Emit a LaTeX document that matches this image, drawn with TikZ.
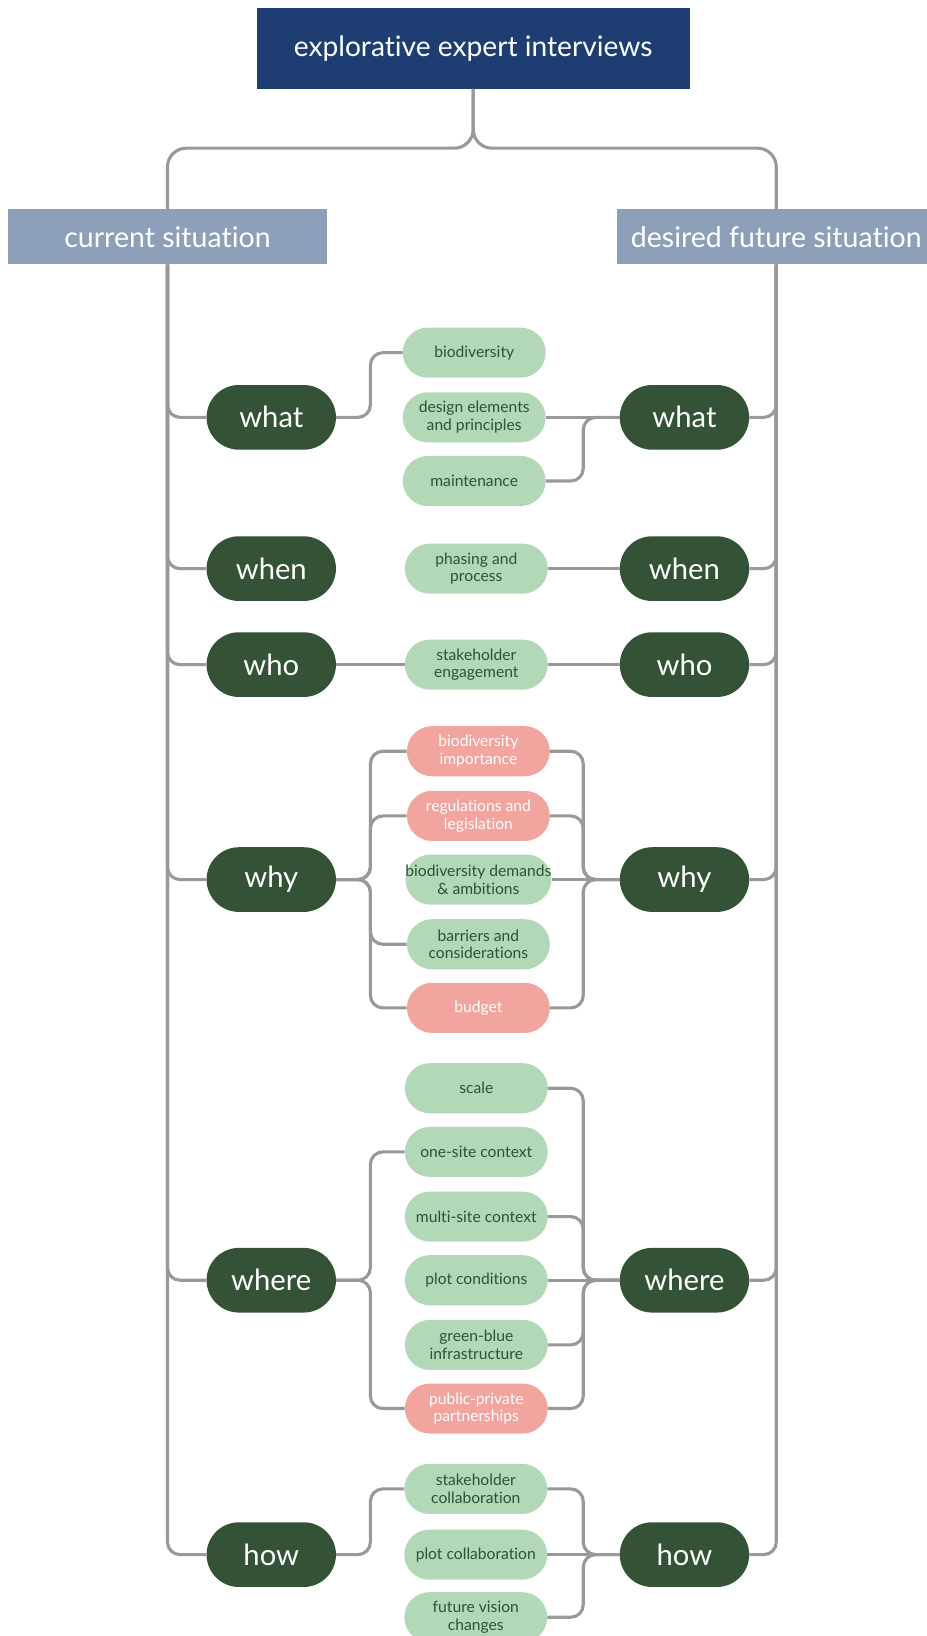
\documentclass[tikz,border=0pt]{standalone}
\usepackage{fontspec}
\setmainfont{Lato}[Ligatures={NoCommon}]
\usetikzlibrary{calc}

\definecolor{navy}{HTML}{1E3D72}
\definecolor{slate}{HTML}{8E9FBA}
\definecolor{darkgreen}{HTML}{335236}
\definecolor{lightgreen}{HTML}{B3D8B8}
\definecolor{pinkfill}{HTML}{F2A49E}
\definecolor{leaftext}{HTML}{2E5233}
\definecolor{linegray}{HTML}{999999}

\tikzset{
  topbox/.style={fill=navy, text=white, minimum width=415, minimum height=77,
    inner sep=0, font=\fontsize{27}{32}\selectfont},
  sidebox/.style={fill=slate, text=white, minimum width=306, minimum height=53,
    inner sep=0, font=\fontsize{27.3}{32}\selectfont},
  catpill/.style={fill=darkgreen, text=white, minimum width=124, minimum height=62,
    rounded corners=31, inner sep=0, font=\fontsize{28}{33}\selectfont},
  leaf/.style={fill=lightgreen, text=leaftext, minimum width=137, minimum height=48,
    rounded corners=24, inner sep=0, align=center,
    font=\fontsize{15}{17}\selectfont},
  pinkleaf/.style={leaf, fill=pinkfill, text=white},
  conn/.style={draw=linegray, line width=3, rounded corners=12},
}

\begin{document}
\begin{tikzpicture}[x=1pt, y=-1pt]
\useasboundingbox (0,0) rectangle (888,1568);

% header and the two situation columns
\node[topbox] (top) at (453.5,46.5) {explorative expert interviews};
\node[sidebox] (cur) at (160.5,227) {current situation};
\node[sidebox] (des) at (744,227) {desired future situation};
\coordinate (fork) at (453.5,142);

% question pills, current situation
\node[catpill] (whatL)  at (260,400)  {what};
\node[catpill] (whenL)  at (260,545)  {when};
\node[catpill] (whoL)   at (260,637)  {who};
\node[catpill] (whyL)   at (260,843)  {why};
\node[catpill] (whereL) at (260,1227) {where};
\node[catpill] (howL)   at (260,1490) {how};

% question pills, desired future situation
\node[catpill] (whatR)  at (656,400)  {what};
\node[catpill] (whenR)  at (656,545)  {when};
\node[catpill] (whoR)   at (656,637)  {who};
\node[catpill] (whyR)   at (656,843)  {why};
\node[catpill] (whereR) at (656,1227) {where};
\node[catpill] (howR)   at (656,1490) {how};

% topics
\node[leaf] (bio)    at (454.5,338) {biodiversity};
\node[leaf] (design) at (454.5,400) {design elements\\and principles};
\node[leaf] (maint)  at (454.5,461) {maintenance};
\node[leaf] (phase)  at (456.5,545) {phasing and\\process};
\node[leaf] (steng)  at (456.5,637) {stakeholder\\engagement};
\node[pinkleaf] (imp)  at (458.5,720) {biodiversity\\importance};
\node[pinkleaf] (regs) at (458.5,782) {regulations and\\legislation};
\node[leaf] (dem)      at (458.5,843) {biodiversity demands\\\& ambitions};
\node[leaf] (barr)     at (458.5,905) {barriers and\\considerations};
\node[pinkleaf] (budg) at (458.5,966) {budget};
\node[leaf] (scale)  at (456.5,1043) {scale};
\node[leaf] (one)    at (456.5,1104) {one-site context};
\node[leaf] (multi)  at (456.5,1166) {multi-site context};
\node[leaf] (plotc)  at (456.5,1227) {plot conditions};
\node[leaf] (gb)     at (456.5,1289) {green-blue\\infrastructure};
\node[pinkleaf] (ppp) at (456.5,1350) {public-private\\partnerships};
\node[leaf] (stcol)  at (456,1427) {stakeholder\\collaboration};
\node[leaf] (plcol)  at (456,1490) {plot collaboration};
\node[leaf] (fut)    at (456,1550) {future vision\\changes};

% bus lines between questions and topics
\coordinate (busL) at (355,0);
\coordinate (busR) at (559,0);

% fork from the header
\draw[conn, rounded corners=18] (top.south) |- (fork -| cur.north) -- (cur.north);
\draw[conn, rounded corners=18] (top.south) |- (fork -| des.north) -- (des.north);

% spines
\foreach \n in {whatL,whenL,whoL,whyL,whereL,howL}
  \draw[conn] (cur.south) |- (\n.west);
\foreach \n in {whatR,whenR,whoR,whyR,whereR,howR}
  \draw[conn] (des.south) |- (\n.east);

% current situation to topics
\draw[conn] (whatL.east) -| (bio.west -| busL) -- (bio.west);
\draw[conn] (whoL.east) -- (steng.west);
\foreach \n in {imp,regs,barr,budg}
  \draw[conn] (whyL.east) -| (\n.west -| busL) -- (\n.west);
\foreach \n in {one,ppp}
  \draw[conn] (whereL.east) -| (\n.west -| busL) -- (\n.west);
\draw[conn] (howL.east) -| (stcol.west -| busL) -- (stcol.west);

% topics to desired future situation
\draw[conn] (design.east) -- (whatR.west);
\draw[conn] (maint.east) -| (whatR.west -| busR) -- (whatR.west);
\draw[conn] (phase.east) -- (whenR.west);
\draw[conn] (steng.east) -- (whoR.west);
\draw[conn] (dem.east) -- (whyR.west);
\foreach \n in {imp,regs,budg}
  \draw[conn] (\n.east) -| (whyR.west -| busR) -- (whyR.west);
\draw[conn] (plotc.east) -- (whereR.west);
\foreach \n in {scale,multi,gb,ppp}
  \draw[conn] (\n.east) -| (whereR.west -| busR) -- (whereR.west);
\draw[conn] (plcol.east) -- (howR.west);
\foreach \n in {stcol,fut}
  \draw[conn] (\n.east) -| (howR.west -| busR) -- (howR.west);
\end{tikzpicture}
\end{document}
